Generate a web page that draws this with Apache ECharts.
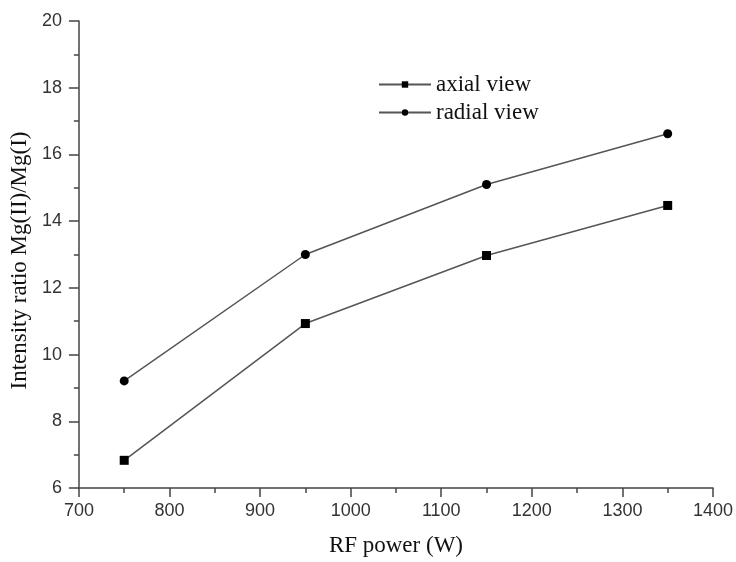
<!DOCTYPE html>
<html>
<head>
<meta charset="utf-8">
<script src="https://cdn.jsdelivr.net/npm/echarts@6/dist/echarts.min.js"></script>
<style>
  html, body { margin: 0; padding: 0; background: #fff; }
  #main { width: 736px; height: 562px; }
</style>
</head>
<body>
<div id="main"></div>
<script>
const chart = echarts.init(document.getElementById('main'))
const rfPower = [750, 950, 1150, 1350]
const axialView = [6.83, 10.93, 12.97, 14.47]
const radialView = [9.21, 13.0, 15.1, 16.62]

let axisLine = {
  lineStyle: {
    color: '#444',
    width: 1.5
  }
}

let option = {
  backgroundColor: '#fff',
  animation: false,
  grid: {
    left: 78,
    right: 23,
    top: 21,
    bottom: 71
  },
  legend: {
    orient: 'vertical',
    left: 373,
    top: 68,
    itemWidth: 52,
    itemHeight: 8,
    itemGap: 5,
    textStyle: {
      fontFamily: 'Liberation Serif',
      fontSize: 23,
      color: '#111'
    },
    data: ['axial view', 'radial view']
  },
  xAxis: {
    type: 'value',
    min: 700,
    max: 1400,
    interval: 100,
    name: 'RF power (W)',
    nameLocation: 'middle',
    nameGap: 46,
    nameTextStyle: {
      fontFamily: 'Liberation Serif',
      fontSize: 23,
      color: '#111'
    },
    axisLine: axisLine,
    axisTick: { show: true, inside: false, length: 9, lineStyle: { color: '#444', width: 1.5 } },
    minorTick: { show: true, splitNumber: 2, length: 5, lineStyle: { color: '#444', width: 1.5 } },
    splitLine: { show: false },
    axisLabel: {
      fontFamily: 'Liberation Sans',
      fontSize: 18,
      color: '#333',
      margin: 14,
      formatter: (v) => String(v)
    }
  },
  yAxis: {
    type: 'value',
    min: 6,
    max: 20,
    interval: 2,
    name: 'Intensity ratio Mg(II)/Mg(I)',
    nameLocation: 'middle',
    nameGap: 46,
    nameTextStyle: {
      fontFamily: 'Liberation Serif',
      fontSize: 23,
      color: '#111',
      padding: [0, 12, 0, 0]
    },
    axisLine: axisLine,
    axisTick: { show: true, inside: false, length: 10, lineStyle: { color: '#444', width: 1.5 } },
    minorTick: { show: true, splitNumber: 2, length: 5, lineStyle: { color: '#444', width: 1.5 } },
    splitLine: { show: false },
    axisLabel: {
      fontFamily: 'Liberation Sans',
      fontSize: 18,
      color: '#333',
      margin: 17
    }
  },
  series: [
    {
      name: 'axial view',
      type: 'line',
      data: rfPower.map((x, i) => [x, axialView[i]]),
      symbol: 'rect',
      symbolSize: 9,
      itemStyle: { color: '#000' },
      lineStyle: { color: '#555', width: 1.5 }
    },
    {
      name: 'radial view',
      type: 'line',
      data: rfPower.map((x, i) => [x, radialView[i]]),
      symbol: 'circle',
      symbolSize: 9,
      itemStyle: { color: '#000' },
      lineStyle: { color: '#555', width: 1.5 }
    }
  ]
}
chart.setOption(option)
</script>
</body>
</html>
